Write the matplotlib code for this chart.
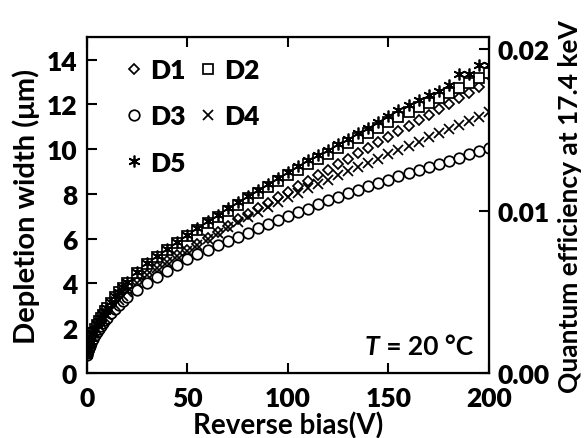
import matplotlib
matplotlib.use("Agg")
import matplotlib.pyplot as plt
from matplotlib.offsetbox import TextArea, HPacker, AnchoredOffsetbox

plt.rcParams['font.family'] = ['Lato', 'DejaVu Sans']
plt.rcParams['font.weight'] = 'heavy'

# reverse bias (V)
bias = [0, 0.25, 0.5, 1, 1.5, 2, 3, 4, 5, 6, 7, 8, 9, 10, 12, 14, 16, 18, 20,
        25, 30, 35, 40, 45, 50, 55, 60, 65, 70, 75, 80, 85, 90, 95, 100,
        105, 110, 115, 120, 125, 130, 135, 140, 145, 150,
        155, 160, 165, 170, 175, 180, 185, 190, 195, 200]

# depletion width (um)
d1 = [0.85, 0.93, 1.01, 1.15, 1.28, 1.40, 1.60, 1.78, 1.94, 2.09, 2.23, 2.36, 2.49, 2.61, 2.84, 3.05, 3.25, 3.45, 3.63,
      4.05, 4.40, 4.72, 5.00, 5.25, 5.50, 5.76, 6.03, 6.30, 6.58, 6.87, 7.12, 7.36, 7.61, 7.85, 8.10,
      8.35, 8.59, 8.84, 9.08, 9.33, 9.57, 9.82, 10.06, 10.31, 10.55,
      10.80, 11.04, 11.29, 11.53, 11.78, 12.02, 12.27, 12.51, 12.76, 13.30]
d2 = [0.91, 1.00, 1.10, 1.26, 1.40, 1.53, 1.77, 1.96, 2.15, 2.31, 2.46, 2.61, 2.75, 2.90, 3.15, 3.40, 3.62, 3.82, 4.02,
      4.45, 4.85, 5.18, 5.50, 5.80, 6.10, 6.40, 6.68, 6.96, 7.24, 7.52, 7.80, 8.06, 8.33, 8.59, 8.85,
      9.09, 9.33, 9.56, 9.80, 10.03, 10.26, 10.50, 10.73, 10.96, 11.19,
      11.42, 11.64, 11.86, 12.08, 12.30, 12.52, 12.74, 12.96, 13.18, 13.40]
d3 = [0.82, 0.90, 0.97, 1.10, 1.22, 1.33, 1.52, 1.69, 1.84, 1.98, 2.11, 2.24, 2.36, 2.47, 2.68, 2.88, 3.06, 3.22, 3.38,
      3.72, 4.00, 4.28, 4.55, 4.83, 5.08, 5.30, 5.50, 5.70, 5.89, 6.08, 6.27, 6.46, 6.64, 6.82, 7.00,
      7.17, 7.34, 7.53, 7.72, 7.88, 8.04, 8.19, 8.34, 8.49, 8.64,
      8.78, 8.92, 9.06, 9.20, 9.34, 9.48, 9.62, 9.77, 9.92, 10.07]
d4 = [0.84, 0.92, 1.00, 1.14, 1.27, 1.39, 1.59, 1.77, 1.93, 2.08, 2.22, 2.35, 2.48, 2.60, 2.83, 3.04, 3.24, 3.44, 3.62,
      4.02, 4.37, 4.69, 4.97, 5.22, 5.45, 5.72, 5.98, 6.24, 6.50, 6.74, 6.97, 7.20, 7.42, 7.64, 7.85,
      8.05, 8.25, 8.45, 8.64, 8.83, 9.02, 9.20, 9.39, 9.58, 9.77,
      9.96, 10.15, 10.33, 10.52, 10.70, 10.90, 11.08, 11.27, 11.45, 11.65]
d5 = [0.93, 1.02, 1.12, 1.28, 1.42, 1.55, 1.79, 1.98, 2.17, 2.33, 2.48, 2.63, 2.77, 2.92, 3.17, 3.42, 3.64, 3.85, 4.05,
      4.50, 4.90, 5.24, 5.56, 5.87, 6.18, 6.48, 6.77, 7.06, 7.35, 7.64, 7.92, 8.19, 8.46, 8.73, 9.00,
      9.25, 9.50, 9.75, 9.98, 10.22, 10.46, 10.72, 10.95, 11.20, 11.50,
      11.75, 11.95, 12.20, 12.40, 12.60, 12.85, 13.35, 13.35, 13.75, 13.75]

fig = plt.figure(figsize=(5.87, 4.39), dpi=100)
ax = fig.add_axes([0.148, 0.148, 0.685, 0.765])

ms = 7.3
mw = 1.25
h1, = ax.plot(bias, d1, 'D', ms=ms - 1.8, mfc='white', mec='black', mew=mw, ls='none', label='D1')
h2, = ax.plot(bias, d2, 's', ms=ms, mfc='white', mec='black', mew=mw, ls='none', label='D2')
h3, = ax.plot(bias, d3, 'o', ms=ms + 0.3, mfc='white', mec='black', mew=mw, ls='none', label='D3')
h4, = ax.plot(bias, d4, 'x', ms=ms, mec='black', mew=mw, ls='none', label='D4')
h5, = ax.plot(bias, d5, marker=(6, 2, 0), ms=ms + 1.2, mec='black', mew=mw, ls='none', label='D5')

ax.set_xlim(0, 200)
ax.set_ylim(0, 15)
ax.set_xticks([0, 50, 100, 150, 200])
ax.set_yticks([0, 2, 4, 6, 8, 10, 12, 14])
ax.tick_params(direction='in', length=7, width=1.5, labelsize=19, top=True)
ax.tick_params(axis='x', pad=9)
ax.tick_params(axis='y', pad=7)
for s in ax.spines.values():
    s.set_linewidth(1.6)
ax.set_xlabel('Reverse bias(V)', fontsize=20, fontweight='bold', labelpad=1)
ax.set_ylabel('Depletion width (\u03bcm)', fontsize=21, fontweight='bold', labelpad=5)

ax2 = ax.twinx()
ax2.set_ylim(0, 0.0207)
ax2.set_yticks([0, 0.01, 0.02])
ax2.set_yticklabels(['0.00', '0.01', '0.02'])
ax2.tick_params(direction='in', length=7, width=1.5, labelsize=19, pad=6)
ax2.set_ylabel('Quantum efficiency at 17.4 keV', fontsize=19, fontweight='bold', labelpad=6)

leg = ax.legend(handles=[h1, h3, h5, h2, h4], ncol=2, loc='upper left',
                frameon=False, fontsize=19, handlelength=0.8, handletextpad=0.2,
                columnspacing=0.45, labelspacing=0.85, borderaxespad=0.0,
                bbox_to_anchor=(0.065, 0.97))

ta1 = TextArea('T', textprops=dict(fontsize=19, fontweight='bold', fontstyle='italic'))
ta2 = TextArea(' = 20 \u00b0C', textprops=dict(fontsize=19, fontweight='bold'))
box = HPacker(children=[ta1, ta2], pad=0, sep=0)
ab = AnchoredOffsetbox(loc='lower right', child=box, frameon=False,
                       bbox_to_anchor=(0.96, 0.045), bbox_transform=ax.transAxes, pad=0, borderpad=0)
ax.add_artist(ab)

fig.savefig('out.png', dpi=100)
